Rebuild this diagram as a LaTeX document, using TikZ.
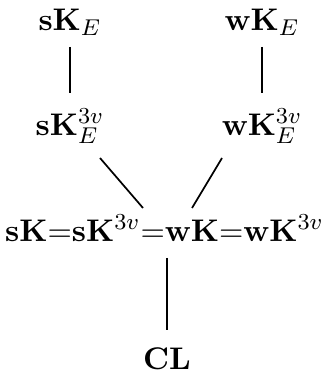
\documentclass[tikz,border=0pt]{standalone}
\begin{document}
\begin{tikzpicture}[x=0.35pt,y=-0.35pt,
  lbl/.style={inner sep=0pt,anchor=center,font=\fontsize{10.95}{13}\selectfont},
  conn/.style={line width=0.6pt}]
\useasboundingbox (0,0) rectangle (325,381);
\node[lbl] (sKE) at (70,22) {$\mathbf{sK}_E$};
\node[lbl] (wKE) at (262,22) {$\mathbf{wK}_E$};
\node[lbl] (sKE3) at (70,126) {$\mathbf{sK}^{3v}_E$};
\node[lbl] (wKE3) at (262,126) {$\mathbf{wK}^{3v}_E$};
\node[lbl] (mid) at (164.5,228) {$\mathbf{sK}{=}\mathbf{sK}^{3v}{=}\mathbf{wK}{=}\mathbf{wK}^{3v}$};
\node[lbl] (CL) at (167,359) {$\mathbf{CL}$};
\coordinate (a1) at (70,47); \coordinate (a2) at (70,93);
\coordinate (b1) at (262,47); \coordinate (b2) at (262,93);
\coordinate (c1) at (100,158); \coordinate (c2) at (143,208);
\coordinate (d1) at (222,158); \coordinate (d2) at (192,208);
\coordinate (e1) at (167,258); \coordinate (e2) at (167,330);
\draw[conn] (a1) -- (a2);
\draw[conn] (b1) -- (b2);
\draw[conn] (c1) -- (c2);
\draw[conn] (d1) -- (d2);
\draw[conn] (e1) -- (e2);
\end{tikzpicture}
\end{document}
